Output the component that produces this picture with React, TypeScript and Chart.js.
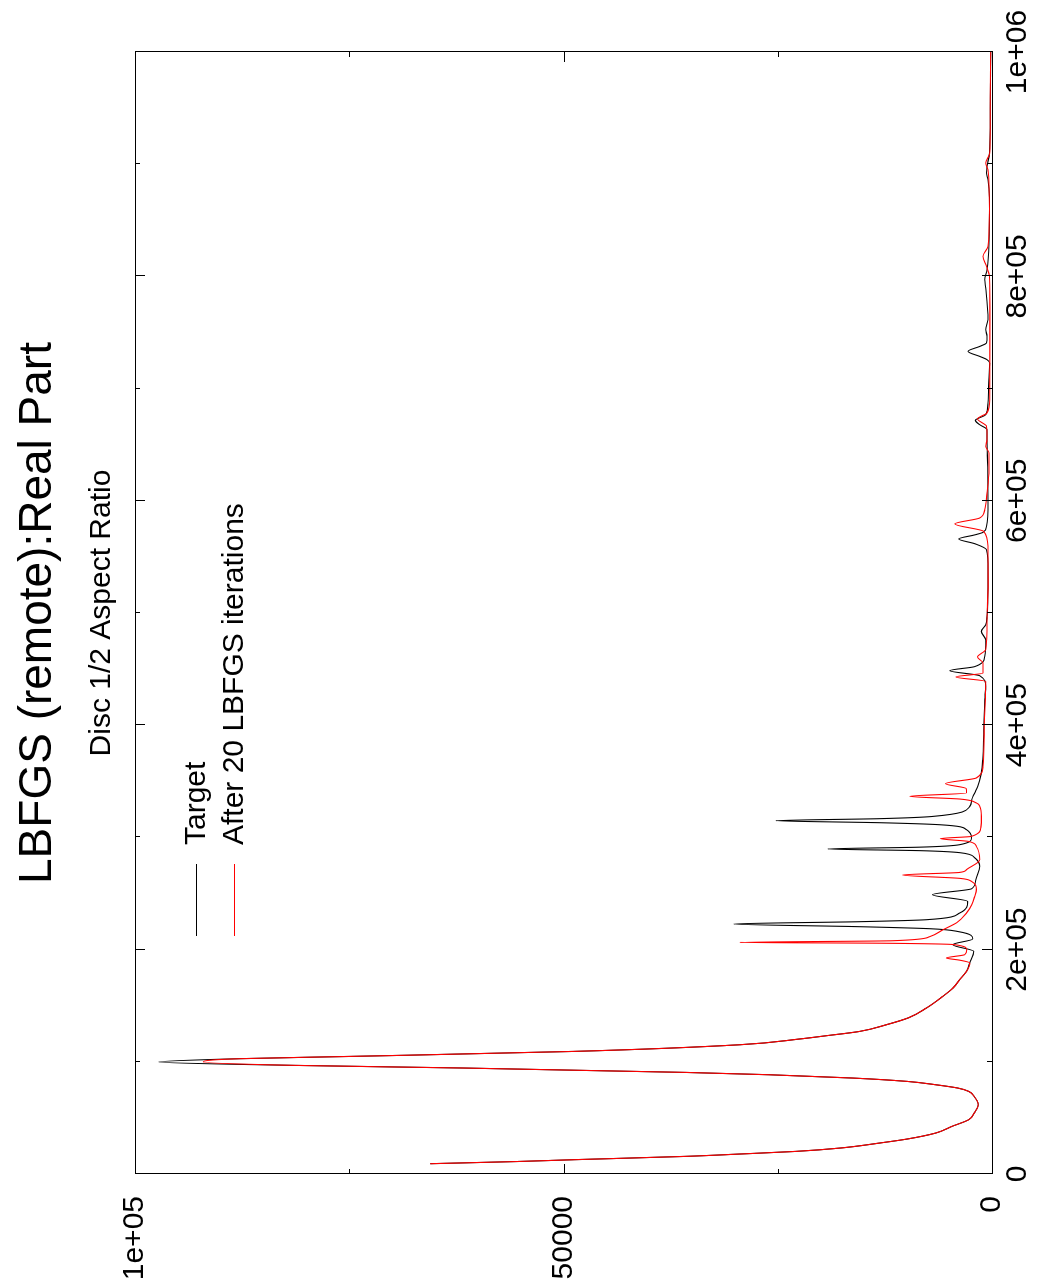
import React, { useEffect, useRef } from 'react';
import { Chart, registerables } from 'chart.js';

Chart.register(...registerables);

// ---------- text ----------
const titleText = 'LBFGS (remote):Real Part';
const subtitleText = 'Disc 1/2 Aspect Ratio';
const targetLabel = 'Target';
const fitLabel = 'After 20 LBFGS iterations';

// ---------- data (frequency, real part) ----------
const targetFreq = [
  9180, 11140, 12750, 15690, 17830, 20140, 23170, 27630, 31200, 36540, 42430, 48400, 54370, 61770,
  69160, 73620, 76650, 79590, 82530, 85560, 88500, 90550, 94480, 96800, 99830, 102770, 104820,
  109270, 115240, 120330, 123270, 127100, 133070, 139300, 147960, 158300, 165780, 173200, 180580,
  188100, 198400, 204400, 209500, 215960, 218630, 220420, 222830, 224880, 226660, 232630, 242970,
  248940, 254300, 262000, 274200, 281900, 286400, 288200, 289700, 291300, 293500, 299500, 306900,
  311300, 313100, 314900, 316700, 318700, 327600, 333600, 339600, 345500, 357400, 369300, 396000,
  422700, 434600, 444100, 448600, 452200, 461300, 476000, 483600, 489500, 497000, 511900, 538600,
  556400, 561800, 566000, 569600, 571900, 577200, 598300, 630000, 654500, 663400, 667800, 671700,
  676800, 687200, 710000, 722800, 725800, 728700, 733200, 737600, 740700, 746600, 752500, 761400,
  789700, 797100, 806000, 830000, 870000, 886200, 892200, 898100, 910000, 950000, 1000000,
];
const targetValue = [
  65560, 55340, 48820, 35830, 29360, 22890, 17660, 13090, 9880, 6560, 4680, 2720, 2080, 1600,
  2080, 2720, 4020, 6600, 9880, 16360, 26100, 35830, 61830, 81310, 97210, 87800, 74740,
  48770, 29340, 22450, 19310, 15430, 12310, 9720, 7650, 5750, 4550, 3770, 2980,
  2600, 2130, 4580, 2250, 3870, 7260, 15430, 30120, 15430, 7620, 3770, 2840,
  6950, 2360, 1900, 1430, 2020, 3770, 8430, 19160, 8430, 3770, 2400, 2980,
  6100, 13100, 25220, 13100, 6920, 2600, 2370, 2020, 1670, 1240, 1080, 970,
  850, 735, 1430, 4930, 2020, 850, 735, 1240, 735, 580, 500, 470,
  650, 2020, 3880, 2020, 1050, 650, 470, 500, 580, 580, 1430, 1940,
  735, 470, 350, 270, 580, 1430, 2800, 1430, 650, 580, 735, 470,
  735, 850, 580, 350, 300, 470, 650, 580, 300, 200, 150,
];

const fitFreq = [
  9180, 11140, 12750, 15690, 17830, 20140, 23170, 27630, 31200, 36540, 42430, 48400, 54370, 61770,
  69160, 73620, 76650, 79590, 82530, 85560, 88500, 90550, 94480, 96800, 99830, 102770, 104820,
  109270, 115240, 120330, 123270, 127100, 133070, 139300, 147960, 158300, 165780, 173200, 180580,
  188100, 190600, 192500, 195500, 199900, 204400, 205700, 206400, 207900, 211500, 217700, 224000,
  232600, 240000, 247400, 253400, 260800, 263500, 266500, 268800, 271200, 280100, 292000, 296500,
  298900, 300900, 309000, 318700, 327600, 330700, 334200, 336600, 339600, 343500, 347900, 353000,
  363300, 400000, 430000, 439000, 443000, 446500, 455400, 460800, 467300, 494000, 530000, 559400,
  572800, 579400, 584700, 592100, 607000, 627700, 642600, 648500, 654500, 666400, 673000, 678300,
  690100, 760000, 800000, 809000, 817900, 826800, 860000, 895100, 901100, 910000, 960000, 1000000,
];
const fitValue = [
  65560, 55340, 48820, 35830, 29360, 22890, 17660, 13090, 9880, 6560, 4680, 2720, 2080, 1600,
  2080, 2720, 4020, 6600, 9880, 16360, 26100, 35830, 61830, 81310, 92030, 87800, 74740,
  48770, 29340, 22450, 19310, 15430, 12310, 9720, 7650, 5750, 4550, 3770, 2980,
  2600, 3770, 5320, 3180, 2950, 4350, 13100, 29420, 11580, 7280, 5710, 4120,
  2980, 2370, 2020, 1820, 2400, 3770, 10450, 3770, 2980, 1430, 1820, 2800,
  6020, 2400, 1300, 1240, 1430, 1820, 3770, 9600, 2980, 3000, 5430, 1820,
  1050, 900, 750, 735, 4230, 1050, 1050, 1700, 735, 580, 450, 470,
  970, 4350, 1430, 850, 580, 350, 350, 735, 580, 650, 1700, 580,
  270, 250, 300, 650, 1050, 470, 300, 470, 735, 270, 200, 150,
];

// ---------- axis ticks ----------
const xMajorTicks = [0, 200000, 400000, 600000, 800000, 1000000];
const xMinorTicks = [100000, 300000, 500000, 700000, 900000];
const xTickLabels = ['0', '2e+05', '4e+05', '6e+05', '8e+05', '1e+06'];
const yMajorTicks = [0, 50000, 100000];
const yMinorTicks = [25000, 75000];
const yTickLabels = ['0', '50000', '1e+05'];

const FONT = '"Liberation Sans", Arial, Helvetica, sans-serif';
const W = 1287; // landscape width (page height)
const H = 1044; // landscape height (page width)

function labelFor(list: number[], labels: string[], value: number): string {
  let best = -1;
  let bd = Infinity;
  list.forEach((t, i) => {
    const d = Math.abs(t - value);
    if (d < bd) { bd = d; best = i; }
  });
  return best >= 0 && bd < 1 ? labels[best] : '';
}

export default function App() {
  const ref = useRef<HTMLCanvasElement>(null);

  useEffect(() => {
    document.documentElement.style.overflow = 'hidden';
    document.body.style.overflow = 'hidden';
    const canvas = ref.current;
    if (!canvas) return;

    const decor = {
      id: 'gnuplotDecor',
      afterDraw(chart: any) {
        const { ctx, chartArea } = chart;
        const { left, right, top, bottom } = chartArea;
        const xs = chart.scales.x;
        const ys = chart.scales.y;
        ctx.save();
        ctx.strokeStyle = '#000';
        ctx.lineWidth = 1;
        // frame
        ctx.strokeRect(left + 0.5, top + 0.5, right - left, bottom - top);
        // inward ticks on all four sides
        const major = 10;
        const minor = 5;
        ctx.beginPath();
        const xt = (v: number, len: number) => {
          const p = Math.round(xs.getPixelForValue(v)) + 0.5;
          ctx.moveTo(p, bottom); ctx.lineTo(p, bottom - len);
          ctx.moveTo(p, top); ctx.lineTo(p, top + len);
        };
        const yt = (v: number, len: number) => {
          const p = Math.round(ys.getPixelForValue(v)) + 0.5;
          ctx.moveTo(left, p); ctx.lineTo(left + len, p);
          ctx.moveTo(right, p); ctx.lineTo(right - len, p);
        };
        xMajorTicks.forEach((v) => xt(v, major));
        xMinorTicks.forEach((v) => xt(v, minor));
        yMajorTicks.forEach((v) => yt(v, major));
        yMinorTicks.forEach((v) => yt(v, minor));
        ctx.stroke();

        // title + subtitle
        const cx = (left + right) / 2;
        ctx.fillStyle = '#000';
        ctx.textAlign = 'center';
        ctx.textBaseline = 'alphabetic';
        ctx.font = `46px ${FONT}`;
        ctx.fillText(titleText, cx, 51);
        ctx.font = `30px ${FONT}`;
        ctx.fillText(subtitleText, cx, 110);

        // key
        ctx.textAlign = 'left';
        ctx.textBaseline = 'middle';
        chart.data.datasets.forEach((ds: any, i: number) => {
          const y = Math.round(196 + i * 37.5) + 0.5;
          ctx.beginPath();
          ctx.strokeStyle = ds.borderColor;
          ctx.lineWidth = 1;
          ctx.moveTo(351, y);
          ctx.lineTo(423, y);
          ctx.stroke();
          ctx.fillStyle = '#000';
          ctx.fillText(ds.label, 442, y);
        });
        ctx.restore();
      },
    };

    const chart = new Chart(canvas, {
      type: 'line',
      data: {
        datasets: [
          {
            label: targetLabel,
            data: targetFreq.map((f, i) => ({ x: f, y: targetValue[i] })),
            borderColor: '#000000',
            borderWidth: 1.1,
            pointRadius: 0,
            cubicInterpolationMode: 'monotone',
            fill: false,
            order: 2,
          },
          {
            label: fitLabel,
            data: fitFreq.map((f, i) => ({ x: f, y: fitValue[i] })),
            borderColor: '#ff0000',
            borderWidth: 1.1,
            pointRadius: 0,
            cubicInterpolationMode: 'monotone',
            fill: false,
            order: 1,
          },
        ],
      },
      options: {
        animation: false,
        responsive: false,
        devicePixelRatio: 1,
        layout: { padding: { left: 0, right: 52, top: 135, bottom: 0 } },
        plugins: {
          legend: { display: false },
          title: { display: false },
          tooltip: { enabled: false },
        },
        scales: {
          x: {
            type: 'linear',
            min: 0,
            max: 1000000,
            grid: { display: false, drawTicks: false },
            border: { display: false },
            ticks: {
              stepSize: 200000,
              autoSkip: false,
              maxRotation: 0,
              minRotation: 0,
              padding: 8,
              color: '#000',
              font: { family: FONT, size: 30 },
              callback: (v: any) => labelFor(xMajorTicks, xTickLabels, Number(v)),
            },
            afterFit: (s: any) => { s.height = 52; },
          },
          y: {
            type: 'linear',
            min: 0,
            max: 100000,
            grid: { display: false, drawTicks: false },
            border: { display: false },
            ticks: {
              stepSize: 50000,
              autoSkip: false,
              padding: 22,
              color: '#000',
              font: { family: FONT, size: 30 },
              callback: (v: any) => labelFor(yMajorTicks, yTickLabels, Number(v)),
            },
            afterFit: (s: any) => { s.width = 113; },
          },
        },
      } as any,
      plugins: [decor],
    });

    return () => chart.destroy();
  }, []);

  return (
    <div
      style={{
        position: 'absolute',
        left: 0,
        top: 0,
        width: W,
        height: H,
        transformOrigin: '0 0',
        transform: `translateY(${W}px) rotate(-90deg)`,
        background: '#fff',
      }}
    >
      <canvas ref={ref} width={W} height={H} style={{ display: 'block', width: W, height: H }} />
    </div>
  );
}
